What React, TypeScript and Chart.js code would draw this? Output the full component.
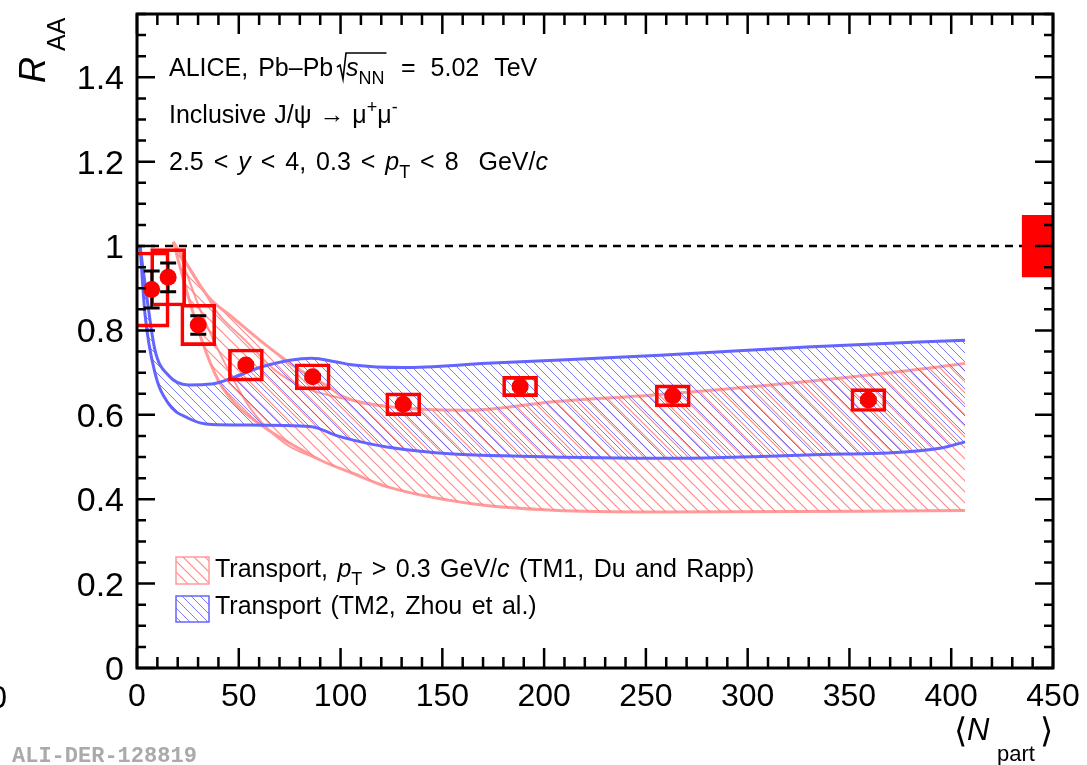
import { useEffect, useRef } from 'react';
import { Chart, registerables } from 'chart.js';
Chart.register(...registerables);

// ---- data ----
const nPart = [7.2, 15.3, 30.1, 53.5, 86.3, 130.8, 188.2, 263.2, 359.3];
const raa = [0.897, 0.926, 0.813, 0.718, 0.69, 0.625, 0.667, 0.645, 0.635];
const statErr = [0.044, 0.034, 0.022, 0.005, 0.005, 0.004, 0.004, 0.004, 0.005];
const systErr = [0.089, 0.068, 0.049, 0.038, 0.031, 0.027, 0.024, 0.026, 0.027];
const globalN = 442.5;
const globalErr = 0.073;

const tm2UpperN = [1.5, 4.8, 8.8, 15.4, 25.2, 36.7, 48.1, 61.3, 85.8, 97.3, 106.3, 130.8, 171.8, 256.9, 329, 406.8];
const tm2UpperR = [1.0, 0.88, 0.754, 0.694, 0.671, 0.673, 0.69, 0.714, 0.734, 0.726, 0.718, 0.712, 0.722, 0.741, 0.761, 0.777];
const tm2LowerN = [1.5, 3.9, 8.8, 15.4, 25.2, 36.7, 53.1, 85.8, 97.3, 106.3, 122.7, 155.4, 188.2, 256.9, 329, 394.5, 406.8];
const tm2LowerR = [1.0, 0.84, 0.7, 0.627, 0.592, 0.577, 0.576, 0.572, 0.552, 0.54, 0.524, 0.507, 0.502, 0.497, 0.505, 0.521, 0.536];

const tm1UpperN = [17.8, 35.0, 46.5, 64.5, 77.6, 94.8, 101.2, 124.3, 163.6, 204.5, 253.6, 329, 394.5, 406.8];
const tm1UpperR = [1.01, 0.88, 0.833, 0.761, 0.714, 0.664, 0.643, 0.619, 0.611, 0.631, 0.647, 0.679, 0.714, 0.722];
const tm1LowerN = [17.8, 25.2, 31.8, 39.9, 48.1, 64.5, 80.9, 89.9, 106.3, 122.7, 163.6, 204.5, 256.9, 406.8];
const tm1LowerR = [1.01, 0.88, 0.777, 0.682, 0.627, 0.564, 0.517, 0.493, 0.461, 0.43, 0.39, 0.374, 0.37, 0.373];
const tm1InnerAN = [17.8, 27.7, 39.9, 53.1, 67.8, 80.9, 97.3, 124.3];
const tm1InnerAR = [1.01, 0.935, 0.84, 0.777, 0.706, 0.667, 0.643, 0.619];
const tm1InnerBN = [20.3, 31.8, 44.9, 56.3, 72.7, 89.9];
const tm1InnerBR = [0.99, 0.84, 0.706, 0.611, 0.532, 0.493];

const xTicks = [0, 50, 100, 150, 200, 250, 300, 350, 400, 450];
const xTickLabels = ['0', '50', '100', '150', '200', '250', '300', '350', '400', '450'];
const yTicks = [0, 0.2, 0.4, 0.6, 0.8, 1.0, 1.2, 1.4];
const yTickLabels = ['0', '0.2', '0.4', '0.6', '0.8', '1', '1.2', '1.4'];

const FONT = '"Liberation Sans", Arial, Helvetica, sans-serif';

type Seg = { t: string; it?: boolean; sub?: boolean; sup?: boolean };

// draws text pieces; every space gets `extra` px more, like ROOT's TLatex spacing
function drawRich(ctx: CanvasRenderingContext2D, x: number, y: number, segs: Seg[], fs: number, extra = 3) {
  let cx = x;
  for (const s of segs) {
    const size = s.sub || s.sup ? Math.round(fs * 0.72) : fs;
    ctx.font = `${s.it ? 'italic ' : ''}${size}px ${FONT}`;
    const dy = s.sub ? fs * 0.32 : s.sup ? -fs * 0.42 : 0;
    const parts = s.t.split(' ');
    parts.forEach((p, i) => {
      if (p) {
        ctx.fillText(p, cx, y + dy);
        cx += ctx.measureText(p).width;
      }
      if (i < parts.length - 1) cx += ctx.measureText(' ').width + extra;
    });
  }
  return cx;
}

function makeHatch(ctx: CanvasRenderingContext2D, color: string, s: number, lw: number) {
  const c = document.createElement('canvas');
  c.width = s;
  c.height = s;
  const g = c.getContext('2d')!;
  g.strokeStyle = color;
  g.lineWidth = lw;
  g.beginPath();
  g.moveTo(-1, -1);
  g.lineTo(s + 1, s + 1);
  g.moveTo(-2, s - 2);
  g.lineTo(2, s + 2);
  g.moveTo(s - 2, -2);
  g.lineTo(s + 2, 2);
  g.stroke();
  return ctx.createPattern(c, 'repeat') as CanvasPattern;
}

const pts = (xs: number[], ys: number[]) => xs.map((x, i) => ({ x, y: ys[i] }));

export default function App() {
  const ref = useRef<HTMLCanvasElement>(null);
  useEffect(() => {
    const canvas = ref.current!;
    const ctx0 = canvas.getContext('2d')!;
    const pinkHatch = makeHatch(ctx0, 'rgba(255,125,125,0.9)', 11, 1.2);
    const blueHatch = makeHatch(ctx0, 'rgba(80,80,255,0.75)', 9, 1);
    const pinkLine = 'rgb(255,155,155)';
    const blueLine = 'rgb(100,100,255)';

    const errPlugin = {
      id: 'errbars',
      beforeDatasetDraw(chart: any, args: any) {
        if (args.index !== 0) return;
        const { ctx, scales } = chart;
        ctx.save();
        ctx.strokeStyle = '#000';
        for (let i = 0; i < nPart.length; i++) {
          const x = scales.x.getPixelForValue(nPart[i]);
          const y1 = scales.y.getPixelForValue(raa[i] + statErr[i]);
          const y2 = scales.y.getPixelForValue(raa[i] - statErr[i]);
          ctx.lineWidth = 2.5;
          ctx.beginPath();
          ctx.moveTo(x, y1);
          ctx.lineTo(x, y2);
          ctx.stroke();
          ctx.lineWidth = 3;
          ctx.beginPath();
          ctx.moveTo(x - 8, y1);
          ctx.lineTo(x + 8, y1);
          ctx.moveTo(x - 8, y2);
          ctx.lineTo(x + 8, y2);
          ctx.stroke();
        }
        ctx.restore();
      },
    };

    const framePlugin = {
      id: 'frame',
      afterDraw(chart: any) {
        const { ctx, chartArea: a, scales } = chart;
        const xs = scales.x;
        const ys = scales.y;
        ctx.save();
        ctx.strokeStyle = '#000';
        ctx.lineWidth = 3;
        ctx.strokeRect(a.left, a.top, a.right - a.left, a.bottom - a.top);
        ctx.lineWidth = 2.5;
        ctx.beginPath();
        for (let v = 0; v <= 450; v += 10) {
          const px = xs.getPixelForValue(v);
          const len = v % 50 === 0 ? 20 : 11;
          ctx.moveTo(px, a.bottom);
          ctx.lineTo(px, a.bottom - len);
          ctx.moveTo(px, a.top);
          ctx.lineTo(px, a.top + len);
        }
        for (let k = 0; k <= 31; k++) {
          const v = k * 0.05;
          if (v > 1.55) break;
          const py = ys.getPixelForValue(v);
          const len = k % 4 === 0 ? 18 : 9;
          ctx.moveTo(a.left, py);
          ctx.lineTo(a.left + len, py);
          ctx.moveTo(a.right, py);
          ctx.lineTo(a.right - len, py);
        }
        ctx.stroke();

        // tick labels
        ctx.fillStyle = '#000';
        ctx.font = `32px ${FONT}`;
        ctx.textAlign = 'center';
        ctx.textBaseline = 'alphabetic';
        xTicks.forEach((v, i) => {
          ctx.fillText(xTickLabels[i], xs.getPixelForValue(v), 706);
        });
        ctx.font = `34px ${FONT}`;
        ctx.textAlign = 'right';
        yTicks.forEach((v, i) => {
          ctx.fillText(yTickLabels[i], 124, ys.getPixelForValue(v) + 12);
        });
        ctx.font = `32px ${FONT}`;
        ctx.fillText('0', 7, 708);

        // y title
        ctx.save();
        ctx.translate(45, 83);
        ctx.rotate(-Math.PI / 2);
        ctx.textAlign = 'left';
        ctx.font = `italic 36px ${FONT}`;
        ctx.fillText('R', 0, 0);
        const wR = ctx.measureText('R').width;
        ctx.font = `25px ${FONT}`;
        ctx.fillText('AA', wR + 6, 20);
        ctx.restore();

        // x title
        ctx.textAlign = 'left';
        ctx.font = `34px ${FONT}`;
        ctx.fillText('⟨', 954, 742);
        ctx.font = `italic 31px ${FONT}`;
        ctx.fillText('N', 967, 740);
        ctx.font = `22px ${FONT}`;
        ctx.fillText('part', 997, 761);
        ctx.font = `34px ${FONT}`;
        ctx.fillText('⟩', 1040, 742);

        // watermark id
        ctx.font = `bold 22px "Liberation Mono", "DejaVu Sans Mono", monospace`;
        ctx.fillStyle = '#aaaaaa';
        ctx.fillText('ALI-DER-128819', 12, 762);

        // header text
        ctx.fillStyle = '#000';
        ctx.strokeStyle = '#000';
        const fs = 25;
        drawRich(ctx, 169, 76, [{ t: 'ALICE, Pb–Pb' }], fs);
        const rx = 337;
        const cx = drawRich(ctx, rx + 9, 76, [{ t: 's', it: true }, { t: 'NN', sub: true }], fs);
        ctx.lineWidth = 1.6;
        ctx.beginPath();
        ctx.moveTo(rx, 67);
        ctx.lineTo(rx + 3, 65);
        ctx.lineTo(rx + 6, 79);
        ctx.lineTo(rx + 9, 53);
        ctx.lineTo(cx + 2, 53);
        ctx.stroke();
        drawRich(ctx, 401, 76, [{ t: '= 5.02 TeV' }], fs, 8);
        drawRich(ctx, 169, 123, [{ t: 'Inclusive J/ψ → μ' }, { t: '+', sup: true }, { t: 'μ' }, { t: '-', sup: true }], fs, 1);
        drawRich(ctx, 169, 170, [
          { t: '2.5 < ' }, { t: 'y', it: true }, { t: ' < 4, 0.3 < ' }, { t: 'p', it: true },
          { t: 'T', sub: true }, { t: ' < 8  GeV/' }, { t: 'c', it: true },
        ], fs, 3);

        // legend
        ctx.fillStyle = pinkHatch;
        ctx.fillRect(176, 557, 33, 27);
        ctx.strokeStyle = pinkLine;
        ctx.lineWidth = 1.5;
        ctx.strokeRect(176, 557, 33, 27);
        ctx.fillStyle = blueHatch;
        ctx.fillRect(176, 596, 33, 26);
        ctx.strokeStyle = blueLine;
        ctx.strokeRect(176, 596, 33, 26);
        ctx.fillStyle = '#000';
        drawRich(ctx, 215, 577, [
          { t: 'Transport, ' }, { t: 'p', it: true }, { t: 'T', sub: true }, { t: ' > 0.3 GeV/' },
          { t: 'c', it: true }, { t: ' (TM1, Du and Rapp)' },
        ], fs, 2.5);
        drawRich(ctx, 215, 614, [{ t: 'Transport (TM2, Zhou et al.)' }], fs, 2.5);
        ctx.restore();
      },
    };

    const lineBase = {
      type: 'line' as const,
      pointRadius: 0,
      pointHoverRadius: 0,
      cubicInterpolationMode: 'monotone' as const,
      showLine: true,
    };

    const chart = new Chart(canvas, {
      type: 'line',
      data: {
        datasets: [
          {
            type: 'line',
            label: 'Data',
            data: pts(nPart, raa),
            showLine: false,
            pointRadius: 8.5,
            pointHoverRadius: 8.5,
            pointBorderWidth: 0,
            pointBackgroundColor: '#ff0000',
            borderColor: '#ff0000',
          },
          {
            type: 'bar',
            label: 'Syst',
            data: nPart.map((x, i) => ({ x, y: [raa[i] - systErr[i], raa[i] + systErr[i]] })),
            backgroundColor: 'rgba(0,0,0,0)',
            borderColor: '#ff0000',
            borderWidth: 3,
            borderSkipped: false,
            barThickness: 35,
            grouped: false,
          } as any,
          {
            type: 'bar',
            label: 'Global',
            data: [{ x: globalN, y: [1 - globalErr, 1 + globalErr] }],
            backgroundColor: '#ff0000',
            borderWidth: 0,
            barThickness: 31,
            grouped: false,
          } as any,
          {
            ...lineBase,
            label: 'Unity',
            data: [{ x: 0, y: 1 }, { x: 450, y: 1 }],
            borderColor: '#000',
            borderWidth: 2.5,
            borderDash: [8, 6],
            fill: false,
          },
          {
            ...lineBase,
            label: 'TM2 upper',
            data: pts(tm2UpperN, tm2UpperR),
            borderColor: blueLine,
            borderWidth: 3,
            backgroundColor: blueHatch,
            fill: '+1',
          },
          {
            ...lineBase,
            label: 'TM2 lower',
            data: pts(tm2LowerN, tm2LowerR),
            borderColor: blueLine,
            borderWidth: 3,
            fill: false,
          },
          {
            ...lineBase,
            label: 'TM1 upper',
            data: pts(tm1UpperN, tm1UpperR),
            borderColor: pinkLine,
            borderWidth: 3,
            backgroundColor: pinkHatch,
            fill: '+1',
          },
          {
            ...lineBase,
            label: 'TM1 lower',
            data: pts(tm1LowerN, tm1LowerR),
            borderColor: pinkLine,
            borderWidth: 3,
            fill: false,
          },
          {
            ...lineBase,
            label: 'TM1 inner A',
            data: pts(tm1InnerAN, tm1InnerAR),
            borderColor: pinkLine,
            borderWidth: 2,
            fill: false,
          },
          {
            ...lineBase,
            label: 'TM1 inner B',
            data: pts(tm1InnerBN, tm1InnerBR),
            borderColor: pinkLine,
            borderWidth: 2,
            fill: false,
          },
        ] as any,
      },
      options: {
        responsive: false,
        animation: false,
        devicePixelRatio: 1,
        layout: { padding: { left: 137, right: 34, top: 14, bottom: 97 } },
        plugins: {
          legend: { display: false },
          tooltip: { enabled: false },
        },
        events: [],
        scales: {
          x: { type: 'linear', min: 0, max: 450, display: false, offset: false },
          y: { type: 'linear', min: 0, max: 1.55, display: false },
        },
      },
      plugins: [errPlugin, framePlugin],
    });
    return () => chart.destroy();
  }, []);

  return (
    <div style={{ position: 'absolute', left: 0, top: 0, width: 1087, height: 765, background: '#fff' }}>
      <canvas ref={ref} width={1087} height={765} style={{ display: 'block', width: 1087, height: 765 }} />
    </div>
  );
}
